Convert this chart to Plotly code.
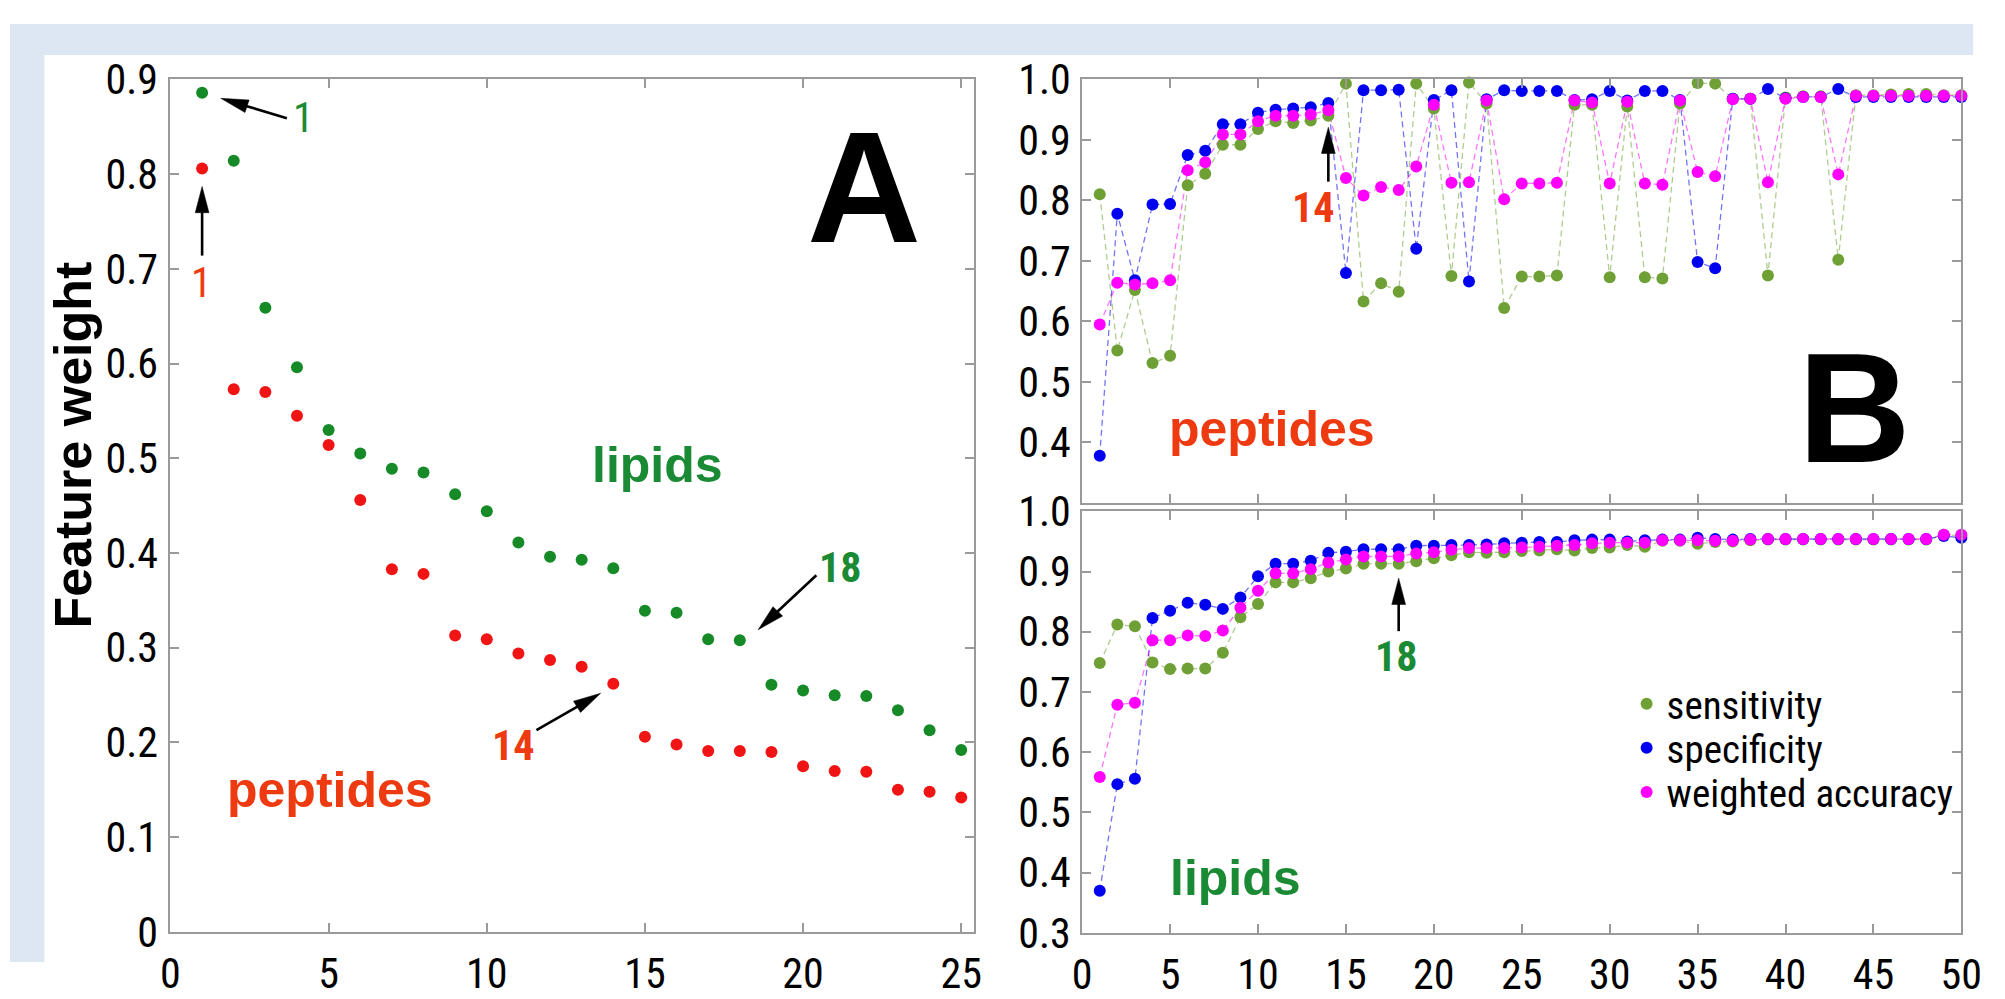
import math
import plotly.graph_objects as go

W, H = 2005, 999

# ---------------- data ----------------
# Panel A: feature weights by rank
rank = list(range(1, 26))
lipid_weight = [0.886, 0.814, 0.659, 0.596, 0.530, 0.505, 0.489, 0.485, 0.462, 0.444,
                0.411, 0.396, 0.393, 0.384, 0.339, 0.337, 0.309, 0.308, 0.261, 0.255,
                0.250, 0.249, 0.234, 0.213, 0.192]
peptide_weight = [0.806, 0.573, 0.570, 0.545, 0.514, 0.456, 0.383, 0.378, 0.313, 0.309,
                  0.294, 0.287, 0.280, 0.262, 0.206, 0.198, 0.191, 0.191, 0.190, 0.175,
                  0.170, 0.169, 0.150, 0.148, 0.142]

# Panel B: performance vs number of features
n_feat = list(range(1, 51))
pep_sens = [0.810, 0.552, 0.652, 0.531, 0.543, 0.825, 0.844, 0.892, 0.892, 0.918,
            0.931, 0.928, 0.932, 0.940, 0.993, 0.633, 0.663, 0.649, 0.993, 0.952,
            0.675, 0.995, 0.960, 0.622, 0.674, 0.674, 0.676, 0.958, 0.958, 0.673,
            0.955, 0.673, 0.671, 0.960, 0.994, 0.993, 0.968, 0.968, 0.676, 0.970,
            0.972, 0.972, 0.702, 0.974, 0.974, 0.975, 0.976, 0.976, 0.974, 0.974]
pep_spec = [0.378, 0.778, 0.668, 0.793, 0.794, 0.875, 0.882, 0.926, 0.926, 0.945,
            0.950, 0.952, 0.954, 0.961, 0.680, 0.982, 0.982, 0.983, 0.720, 0.966,
            0.982, 0.666, 0.967, 0.982, 0.981, 0.981, 0.981, 0.966, 0.967, 0.981,
            0.965, 0.981, 0.981, 0.966, 0.698, 0.688, 0.968, 0.968, 0.984, 0.969,
            0.971, 0.971, 0.984, 0.971, 0.971, 0.971, 0.971, 0.971, 0.971, 0.971]
pep_wacc = [0.595, 0.664, 0.661, 0.663, 0.668, 0.850, 0.863, 0.909, 0.909, 0.931,
            0.940, 0.940, 0.942, 0.949, 0.837, 0.808, 0.822, 0.817, 0.856, 0.958,
            0.829, 0.830, 0.965, 0.802, 0.828, 0.828, 0.829, 0.965, 0.962, 0.828,
            0.963, 0.828, 0.826, 0.965, 0.847, 0.840, 0.967, 0.968, 0.830, 0.968,
            0.971, 0.971, 0.843, 0.973, 0.973, 0.973, 0.973, 0.973, 0.973, 0.973]
lip_sens = [0.748, 0.812, 0.809, 0.749, 0.738, 0.739, 0.739, 0.765, 0.824, 0.846,
            0.882, 0.882, 0.889, 0.900, 0.905, 0.913, 0.913, 0.913, 0.917, 0.922,
            0.927, 0.932, 0.931, 0.932, 0.934, 0.935, 0.937, 0.935, 0.939, 0.940,
            0.944, 0.941, 0.951, 0.951, 0.946, 0.949, 0.950, 0.952, 0.953, 0.953,
            0.953, 0.953, 0.953, 0.953, 0.953, 0.953, 0.953, 0.953, 0.961, 0.960]
lip_spec = [0.370, 0.547, 0.556, 0.823, 0.835, 0.848, 0.845, 0.838, 0.857, 0.892,
            0.913, 0.913, 0.918, 0.931, 0.933, 0.937, 0.937, 0.937, 0.943, 0.943,
            0.944, 0.944, 0.945, 0.947, 0.948, 0.949, 0.949, 0.952, 0.953, 0.953,
            0.950, 0.952, 0.953, 0.953, 0.956, 0.954, 0.953, 0.954, 0.954, 0.954,
            0.954, 0.954, 0.954, 0.954, 0.954, 0.954, 0.954, 0.954, 0.959, 0.956]
lip_wacc = [0.559, 0.679, 0.682, 0.786, 0.786, 0.794, 0.793, 0.802, 0.840, 0.868,
            0.897, 0.897, 0.904, 0.915, 0.920, 0.925, 0.925, 0.925, 0.930, 0.932,
            0.936, 0.939, 0.939, 0.939, 0.940, 0.941, 0.943, 0.944, 0.947, 0.948,
            0.948, 0.948, 0.952, 0.952, 0.952, 0.951, 0.951, 0.953, 0.954, 0.954,
            0.954, 0.954, 0.954, 0.954, 0.954, 0.954, 0.954, 0.954, 0.961, 0.961]

series_names = ["sensitivity", "specificity", "weighted accuracy"]

# ---------------- styling ----------------
NARROW = ("Liberation Sans Narrow, Arial Narrow, Roboto Condensed, Noto Sans Condensed, "
          "Nimbus Sans Narrow, DejaVu Sans Condensed, sans-serif")
SANS = "Liberation Sans, Arial, Helvetica, sans-serif"
BG_BLUE = "#dde7f3"
AXIS_GREY = "#9a9a9a"
A_GREEN = "#178a28"
A_RED = "#f01414"
TXT_GREEN = "#1b8a35"
TXT_RED = "#ee3a10"
B_COLORS = ["#6fa035", "#0000f0", "#ff00ff"]
B_LINE_COLORS = ["rgba(111,160,53,0.55)", "rgba(0,0,240,0.55)", "rgba(255,0,255,0.55)"]

# layout geometry (pixels)
A_X = (163, 979)
B_X = (1089, 1982)
A_Y = (59, 967)
BT_Y = (59, 510)
BB_Y = (519, 968)


def xdom(px):
    return [px[0] / W, px[1] / W]


def ydom(py):
    return [1 - py[1] / H, 1 - py[0] / H]


PANELS = {
    "A": dict(xd=xdom(A_X), xr=(0, 25.4), yd=ydom(A_Y), yr=(0, 0.9)),
    "BT": dict(xd=xdom(B_X), xr=(0, 50), yd=ydom(BT_Y), yr=(0.3, 1.0)),
    "BB": dict(xd=xdom(B_X), xr=(0, 50), yd=ydom(BB_Y), yr=(0.3, 1.0)),
}


def to_px(panel, x, y):
    p = PANELS[panel]
    fx = p["xd"][0] + (x - p["xr"][0]) / (p["xr"][1] - p["xr"][0]) * (p["xd"][1] - p["xd"][0])
    fy = p["yd"][0] + (y - p["yr"][0]) / (p["yr"][1] - p["yr"][0]) * (p["yd"][1] - p["yd"][0])
    return fx * W, (1 - fy) * H


def pp(X, Y):
    return X / W, 1 - Y / H


def arrow_shapes(panel, x0, y0, x1, y1, head_len=28, head_w=14, lw=2.6):
    X0, Y0 = to_px(panel, x0, y0)
    X1, Y1 = to_px(panel, x1, y1)
    dx, dy = X1 - X0, Y1 - Y0
    L = math.hypot(dx, dy)
    ux, uy = dx / L, dy / L
    bx, by = X1 - ux * head_len, Y1 - uy * head_len
    nx, ny = -uy, ux
    c1 = pp(bx + nx * head_w / 2, by + ny * head_w / 2)
    c2 = pp(bx - nx * head_w / 2, by - ny * head_w / 2)
    tip = pp(X1, Y1)
    s0 = pp(X0, Y0)
    s1 = pp(bx + ux * 3, by + uy * 3)
    return [
        dict(type="line", xref="paper", yref="paper", x0=s0[0], y0=s0[1], x1=s1[0], y1=s1[1],
             line=dict(color="black", width=lw), layer="above"),
        dict(type="path", xref="paper", yref="paper",
             path=f"M{tip[0]},{tip[1]} L{c1[0]},{c1[1]} L{c2[0]},{c2[1]} Z",
             fillcolor="black", line=dict(color="black", width=0.5), layer="above"),
    ]


fig = go.Figure()

# Panel A
fig.add_trace(go.Scatter(x=rank, y=lipid_weight, mode="markers", xaxis="x", yaxis="y",
                         marker=dict(color=A_GREEN, size=12), showlegend=False, cliponaxis=False))
fig.add_trace(go.Scatter(x=rank, y=peptide_weight, mode="markers", xaxis="x", yaxis="y",
                         marker=dict(color=A_RED, size=12), showlegend=False, cliponaxis=False))

# Panel B (top: peptides, bottom: lipids) - dashed connecting lines first
pep_series = [pep_sens, pep_spec, pep_wacc]
lip_series = [lip_sens, lip_spec, lip_wacc]
for ys, lcol in zip(pep_series, B_LINE_COLORS):
    fig.add_trace(go.Scatter(x=n_feat, y=ys, mode="lines", xaxis="x2", yaxis="y2",
                             line=dict(color=lcol, width=1.3, dash="6px,4px"),
                             showlegend=False, hoverinfo="skip"))
for ys, lcol in zip(lip_series, B_LINE_COLORS):
    fig.add_trace(go.Scatter(x=n_feat, y=ys, mode="lines", xaxis="x3", yaxis="y3",
                             line=dict(color=lcol, width=1.3, dash="6px,4px"),
                             showlegend=False, hoverinfo="skip"))
for ys, col in zip(pep_series, B_COLORS):
    fig.add_trace(go.Scatter(x=n_feat, y=ys, mode="markers", xaxis="x2", yaxis="y2",
                             marker=dict(color=col, size=12), showlegend=False, cliponaxis=False))
legends = ["legend", "legend2", "legend3"]
for i, (ys, col) in enumerate(zip(lip_series, B_COLORS)):
    fig.add_trace(go.Scatter(x=n_feat, y=ys, mode="markers", xaxis="x3", yaxis="y3",
                             name=series_names[i], legend=legends[i],
                             marker=dict(color=col, size=12), showlegend=True, cliponaxis=False))

tick_font = dict(family=NARROW, size=42, color="black")
common_axis = dict(showline=True, linecolor=AXIS_GREY, linewidth=2, mirror="allticks",
                   ticks="inside", ticklen=9, tickwidth=1.5, tickcolor=AXIS_GREY,
                   showgrid=False, zeroline=False, tickfont=tick_font, fixedrange=True)

a_y_ticks = [0, 0.1, 0.2, 0.3, 0.4, 0.5, 0.6, 0.7, 0.8, 0.9]
a_y_text = ["0", "0.1", "0.2", "0.3", "0.4", "0.5", "0.6", "0.7", "0.8", "0.9"]
b_y_ticks = [0.3, 0.4, 0.5, 0.6, 0.7, 0.8, 0.9, 1.0]
b_y_text = ["0.3", "0.4", "0.5", "0.6", "0.7", "0.8", "0.9", "1.0"]
a_x_ticks = [0, 5, 10, 15, 20, 25]
b_x_ticks = [0, 5, 10, 15, 20, 25, 30, 35, 40, 45, 50]

fig.update_layout(
    width=W, height=H, margin=dict(l=0, r=0, t=0, b=0),
    paper_bgcolor="white", plot_bgcolor="white",
    xaxis=dict(domain=PANELS["A"]["xd"], range=list(PANELS["A"]["xr"]), anchor="y",
               tickvals=a_x_ticks, ticklabelstandoff=4, **common_axis),
    yaxis=dict(domain=PANELS["A"]["yd"], range=list(PANELS["A"]["yr"]), anchor="x",
               tickvals=a_y_ticks, ticktext=a_y_text, ticklabelstandoff=2, **common_axis),
    xaxis2=dict(domain=PANELS["BT"]["xd"], range=list(PANELS["BT"]["xr"]), anchor="y2",
                tickvals=b_x_ticks, showticklabels=False, **common_axis),
    yaxis2=dict(domain=PANELS["BT"]["yd"], range=list(PANELS["BT"]["yr"]), anchor="x2",
                tickvals=b_y_ticks[1:], ticktext=b_y_text[1:], ticklabelstandoff=1, **common_axis),
    xaxis3=dict(domain=PANELS["BB"]["xd"], range=list(PANELS["BB"]["xr"]), anchor="y3",
                tickvals=b_x_ticks, ticklabelstandoff=4, **common_axis),
    yaxis3=dict(domain=PANELS["BB"]["yd"], range=list(PANELS["BB"]["yr"]), anchor="x3",
                tickvals=b_y_ticks, ticktext=b_y_text, ticklabelstandoff=1, **common_axis),
)

leg_common = dict(xanchor="left", yanchor="middle", bgcolor="rgba(0,0,0,0)",
                  font=dict(family=NARROW, size=39, color="black"), itemwidth=30)
row_y = [724, 771, 818]
LEG_X = 1642
fig.update_layout(
    legend=dict(x=LEG_X / W, y=1 - row_y[0] / H, **leg_common),
    legend2=dict(x=LEG_X / W, y=1 - row_y[1] / H, **leg_common),
    legend3=dict(x=LEG_X / W, y=1 - row_y[2] / H, **leg_common),
)

# background frame
shapes = [
    dict(type="rect", xref="paper", yref="paper", x0=0, x1=1994 / W, y0=1 - 33 / H, y1=1,
         fillcolor=BG_BLUE, line=dict(width=0), layer="below"),
    dict(type="rect", xref="paper", yref="paper", x0=0, x1=35 / W, y0=0, y1=1,
         fillcolor=BG_BLUE, line=dict(width=0), layer="below"),
]
# arrows
shapes += arrow_shapes("A", 3.68, 0.859, 1.59, 0.880)
shapes += arrow_shapes("A", 1.0, 0.714, 1.0, 0.787)
shapes += arrow_shapes("A", 11.57, 0.213, 13.6, 0.252)
shapes += arrow_shapes("A", 20.42, 0.3766, 18.58, 0.319)
shapes += arrow_shapes("BT", 14, 0.831, 14, 0.921)
shapes += arrow_shapes("BB", 18, 0.801, 18, 0.889)
fig.update_layout(shapes=shapes)


def txt(text, x, y, xref, yref, size, color, family=SANS, weight="bold", angle=0):
    return dict(text=text, x=x, y=y, xref=xref, yref=yref, showarrow=False,
                xanchor="center", yanchor="middle", textangle=angle,
                font=dict(family=family, size=size, color=color, weight=weight))


annotations = [
    txt("Feature weight", 64 / W, 1 - 449 / H, "paper", "paper", 52, "black", angle=-90),
    txt("A", 21.92, 0.786, "x", "y", 158, "black"),
    txt("lipids", 15.4, 0.4925, "x", "y", 50, TXT_GREEN),
    txt("peptides", 5.05, 0.1496, "x", "y", 50, TXT_RED),
    txt("1", 0.97, 0.686, "x", "y", 42, TXT_RED, family=NARROW, weight="normal"),
    txt("1", 4.21, 0.8593, "x", "y", 42, TXT_GREEN, family=NARROW, weight="normal"),
    txt("14", 10.82, 0.197, "x", "y", 42, TXT_RED, family=NARROW),
    txt("18", 21.17, 0.3845, "x", "y", 42, TXT_GREEN, family=NARROW),
    txt("B", 43.95, 0.4565, "x2", "y2", 156, "black"),
    txt("peptides", 10.8, 0.4224, "x2", "y2", 50, TXT_RED),
    txt("14", 13.1, 0.789, "x2", "y2", 42, TXT_RED, family=NARROW),
    txt("lipids", 8.73, 0.3904, "x3", "y3", 50, TXT_GREEN),
    txt("18", 17.86, 0.759, "x3", "y3", 42, TXT_GREEN, family=NARROW),
]
fig.update_layout(annotations=annotations)

fig.write_html("out.html",
               post_script="document.body.style.margin='0';document.body.style.overflow='hidden';")
